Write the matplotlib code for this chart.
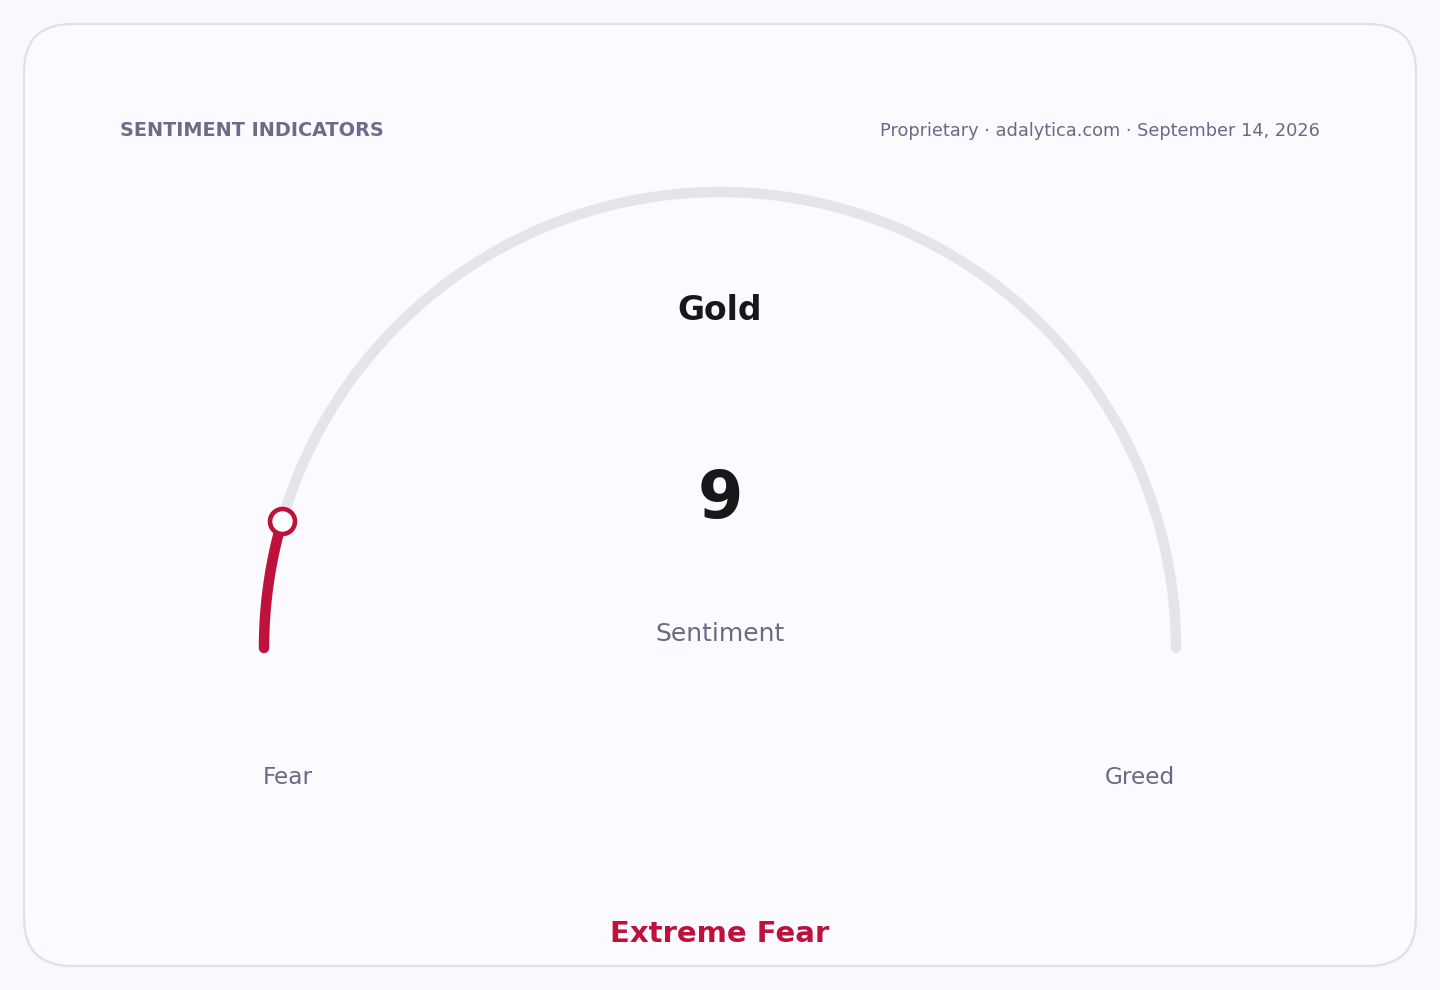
import numpy as np
import matplotlib
matplotlib.use("Agg")
import matplotlib.pyplot as plt
from matplotlib.patches import FancyBboxPatch

# ---- data ----
asset = "Gold"
value = 9
scale_min, scale_max = 0, 100
zone_label = "Extreme Fear"
metric_label = "Sentiment"
end_labels = ["Fear", "Greed"]
header_left = "SENTIMENT INDICATORS"
header_right = "Proprietary · adalytica.com · September 14, 2026"

# ---- style ----
RED = "#be123c"
TRACK = "#e4e4ea"
DARK = "#18181b"
MUTED = "#6b6a86"
HEAD = "#6e6a8a"

plt.rcParams['font.family'] = ['DejaVu Sans']
fig = plt.figure(figsize=(14.4, 9.9), dpi=100)
fig.patch.set_facecolor("#f8f8fd")
ax = fig.add_axes([0, 0, 1, 1])
ax.set_xlim(0, 1440)
ax.set_ylim(990, 0)
ax.axis("off")

card = FancyBboxPatch((24, 24), 1392, 942, boxstyle="round,pad=0,rounding_size=48",
                      facecolor="#fafaff", edgecolor="#e0dfef", linewidth=1.6)
ax.add_patch(card)

cx, cy, R = 720, 648, 456

def ang(v):
    return np.pi * (1 - (v - scale_min) / (scale_max - scale_min))

t = np.linspace(ang(scale_min), ang(scale_max), 400)
ax.plot(cx + R * np.cos(t), cy - R * np.sin(t), color=TRACK, lw=7.5,
        solid_capstyle="round", zorder=2)
tv = np.linspace(ang(scale_min), ang(value), 100)
ax.plot(cx + R * np.cos(tv), cy - R * np.sin(tv), color=RED, lw=7.5,
        solid_capstyle="round", zorder=3)
ax.plot([cx + R * np.cos(ang(value))], [cy - R * np.sin(ang(value))], marker="o",
        markersize=18, markerfacecolor="white", markeredgecolor=RED,
        markeredgewidth=3.3, zorder=4)

ax.text(120, 131, header_left, fontsize=13.9, fontweight="bold", color=HEAD,
        ha="left", va="center")
ax.text(1320, 131, header_right, fontsize=12.8, color=MUTED, ha="right", va="center")

ax.text(cx, 310, asset, fontsize=23.8, fontweight="bold", color=DARK, ha="center", va="center")
ax.text(cx, 500, str(value), fontsize=47, fontweight="bold", color=DARK, ha="center", va="center")
ax.text(cx, 634, metric_label, fontsize=18, color=MUTED, ha="center", va="center")
ax.text(288, 778, end_labels[0], fontsize=16.7, color=MUTED, ha="center", va="center")
ax.text(1140, 778, end_labels[1], fontsize=16.7, color=MUTED, ha="center", va="center")
ax.text(cx, 934, zone_label, fontsize=21, fontweight="bold", color=RED, ha="center", va="center")

fig.savefig("out.png", dpi=100, facecolor=fig.get_facecolor())
